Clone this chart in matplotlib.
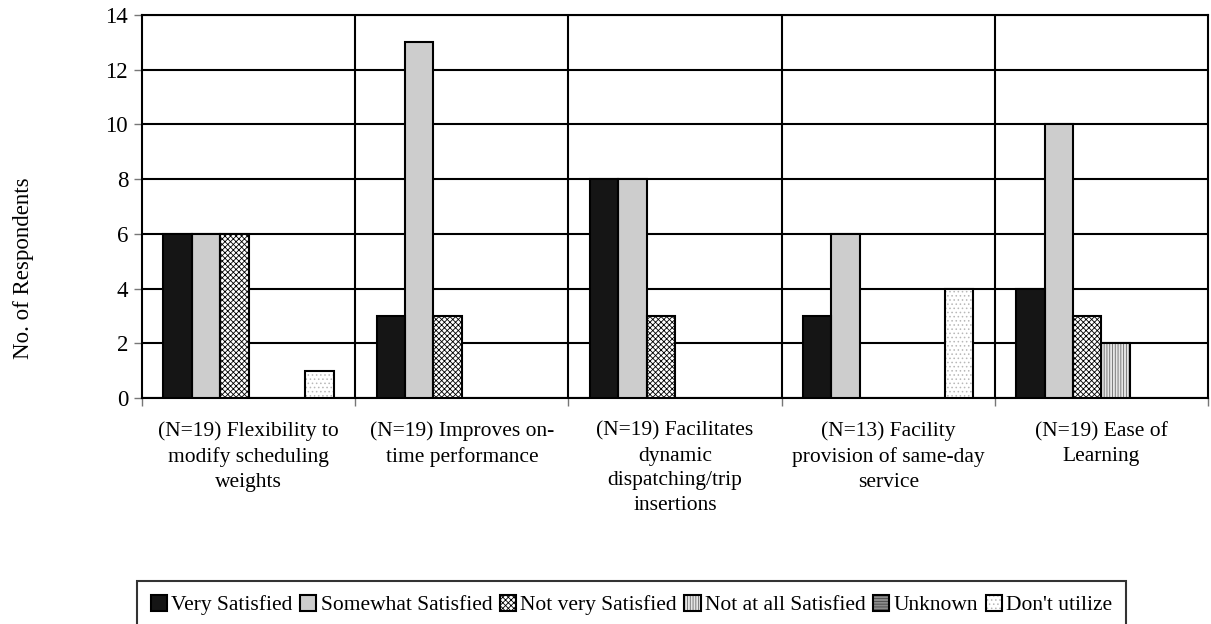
import matplotlib.pyplot as plt
import matplotlib as mpl
import numpy as np
from matplotlib.patches import Patch
from matplotlib.legend_handler import HandlerTuple

mpl.rcParams['font.family'] = ['Liberation Serif', 'DejaVu Serif']
mpl.rcParams['hatch.linewidth'] = 0.6

# 数据
categories = ["(N=19) Flexibility to\nmodify scheduling\nweights",
              "(N=19) Improves on-\ntime performance",
              "(N=19) Facilitates\ndynamic\ndispatching/trip\ninsertions",
              "(N=13) Facility\nprovision of same-day\nservice",
              "(N=19) Ease of\nLearning"]
series_names = ["Very Satisfied", "Somewhat Satisfied", "Not very Satisfied",
                "Not at all Satisfied", "Unknown", "Don't utilize"]
very_satisfied = [6, 3, 8, 3, 4]
somewhat_satisfied = [6, 13, 8, 6, 10]
not_very_satisfied = [6, 3, 3, 0, 3]
not_at_all_satisfied = [0, 0, 0, 0, 2]
unknown = [0, 0, 0, 0, 0]
dont_utilize = [1, 0, 0, 4, 0]
series = [very_satisfied, somewhat_satisfied, not_very_satisfied,
          not_at_all_satisfied, unknown, dont_utilize]

# 样式: (填充色, 花纹, 花纹颜色)
styles = [('#151515', '', '#151515'),
          ('#cdcdcd', '', '#cdcdcd'),
          ('#ffffff', 'xxxxxx', '#000000'),
          ('#e6e6e6', '||||||', '#6a6a6a'),
          ('#8c8c8c', '------', '#444444'),
          ('#ffffff', '....', '#b8b8b8')]

fig = plt.figure(figsize=(12.11, 6.24), dpi=100)
ax = fig.add_axes([0.1173, 0.362, 0.8802, 0.614])

x = np.arange(len(categories))
w = 1 / 7.5
handles = []
for i, (vals, (fc, hatch, hc)) in enumerate(zip(series, styles)):
    pos = x - 0.5 + 0.75 * w + i * w + w / 2
    vals = np.array(vals, dtype=float)
    mask = vals > 0
    ax.bar(pos[mask], vals[mask], width=w, color=fc, hatch=hatch,
           edgecolor=hc, linewidth=0, zorder=3)
    ax.bar(pos[mask], vals[mask], width=w, fill=False,
           edgecolor='black', linewidth=1.5, zorder=4)
    handles.append((Patch(facecolor=fc, hatch=hatch, edgecolor=hc, linewidth=0),
                    Patch(fill=False, edgecolor='black', linewidth=1.5)))

ax.set_xlim(-0.5, len(categories) - 0.5)
ax.set_ylim(0, 14)
ax.set_yticks(range(0, 15, 2))
ax.yaxis.grid(True, color='black', linewidth=1.5, zorder=0)
for b in np.arange(0.5, len(categories) - 1, 1.0):
    ax.axvline(b, color='black', linewidth=1.5, zorder=1)
for s in ax.spines.values():
    s.set_linewidth(1.5)

ax.set_xticks(np.arange(-0.5, len(categories), 1.0))
ax.set_xticklabels([])
ax.set_xticks(x, minor=True)
ax.set_xticklabels(categories, minor=True, fontsize=15.5, linespacing=1.4, va='top')
ax.tick_params(axis='x', which='minor', length=0, pad=17)
ax.tick_params(axis='x', which='major', length=6, color='#777777', width=1)
ax.tick_params(axis='y', length=6, color='#777777', width=1, labelsize=16.5, pad=4)

fig.text(0.019, 0.570, "No. of Respondents", rotation=90,
         va='center', ha='center', fontsize=16.5)

leg = fig.legend(handles, series_names, loc='upper center', bbox_to_anchor=(0.5215, 0.069),
                 ncol=6, fontsize=15.5, frameon=True, fancybox=False,
                 handlelength=0.75, handleheight=0.75, handletextpad=0.2,
                 columnspacing=0.35, borderpad=0.65, borderaxespad=0,
                 handler_map={tuple: HandlerTuple(ndivide=1, pad=0)})
leg.get_frame().set_edgecolor('black')
leg.get_frame().set_linewidth(1.5)

plt.savefig('out.png', dpi=100)
